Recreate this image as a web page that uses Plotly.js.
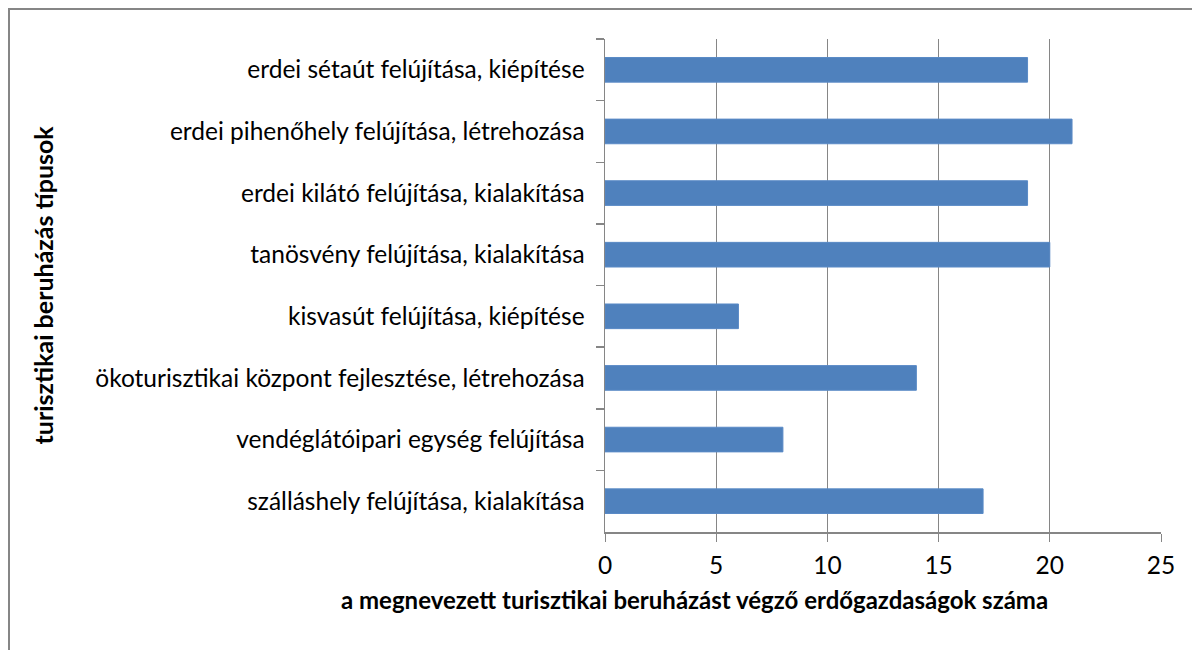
<!DOCTYPE html>
<html><head><meta charset="utf-8">
<script src="https://cdn.plot.ly/plotly-3.0.1.min.js"></script>
<style>
html,body{margin:0;padding:0;background:#fff;}
#wrap{position:relative;width:1192px;height:650px;overflow:hidden;}
#chart{position:absolute;left:0;top:0;width:1192px;height:650px;}
#frame{position:absolute;left:8px;top:8px;width:1200px;height:700px;border-top:2px solid #868686;border-left:2px solid #868686;pointer-events:none;}
</style></head>
<body>
<div id="wrap"><div id="chart"></div><div id="frame"></div></div>
<script>
const categories = [
  "erdei sétaút felújítása, kiépítése",
  "erdei pihenőhely felújítása, létrehozása",
  "erdei kilátó felújítása, kialakítása",
  "tanösvény felújítása, kialakítása",
  "kisvasút felújítása, kiépítése",
  "ökoturisztikai központ fejlesztése, létrehozása",
  "vendéglátóipari egység felújítása",
  "szálláshely felújítása, kialakítása"
];
const values = [19, 21, 19, 20, 6, 14, 8, 17];
const xTitle = "a megnevezett turisztikai beruházást végző erdőgazdaságok száma";
const yTitle = "turisztikai beruházás típusok";

const FONT = "Lato, 'Open Sans', sans-serif";
const FS = 24.5;
const trace = {
  type: 'bar', orientation: 'h',
  x: values, y: categories,
  marker: {color: '#4F81BD', line: {color: '#5A8AC6', width: 1}},
  hoverinfo: 'none'
};
const layout = {
  width: 1192, height: 650,
  margin: {l: 605, r: 31, t: 39, b: 118, pad: 0},
  paper_bgcolor: '#fff', plot_bgcolor: '#fff',
  showlegend: false,
  bargap: 0.6,
  font: {family: FONT, size: FS, color: '#000'},
  xaxis: {
    range: [0, 25], dtick: 5, tick0: 0,
    showgrid: true, gridcolor: '#868686', gridwidth: 1,
    showline: true, linecolor: '#868686', linewidth: 1.5,
    ticks: 'outside', ticklen: 8, tickcolor: '#868686', tickwidth: 1,
    zeroline: false,
    tickfont: {family: FONT, size: FS, color: '#000'},
    ticklabelstandoff: 3,
    fixedrange: true
  },
  yaxis: {
    type: 'category', autorange: 'reversed',
    showgrid: false,
    showline: true, linecolor: '#868686', linewidth: 1.5,
    ticks: 'outside', ticklen: 8, tickcolor: '#868686', tickwidth: 1.5,
    tickson: 'boundaries',
    tickfont: {family: FONT, size: FS, color: '#000'},
    ticklabelstandoff: 14,
    fixedrange: true
  },
  annotations: [
    {text: '<b>' + xTitle + '</b>', xref: 'paper', yref: 'paper',
     x: (694 - 605) / 556, y: -(599 - 532) / 493, xanchor: 'center', yanchor: 'middle',
     showarrow: false, font: {family: FONT, size: 24, color: '#000'}},
    {text: '<b>' + yTitle + '</b>', xref: 'paper', yref: 'paper',
     x: (42 - 605) / 556, y: 0.5, xanchor: 'center', yanchor: 'middle', textangle: -90,
     showarrow: false, font: {family: FONT, size: 25, color: '#000'}}
  ]
};
Plotly.newPlot('chart', [trace], layout, {staticPlot: true, displayModeBar: false});
</script>
</body></html>
